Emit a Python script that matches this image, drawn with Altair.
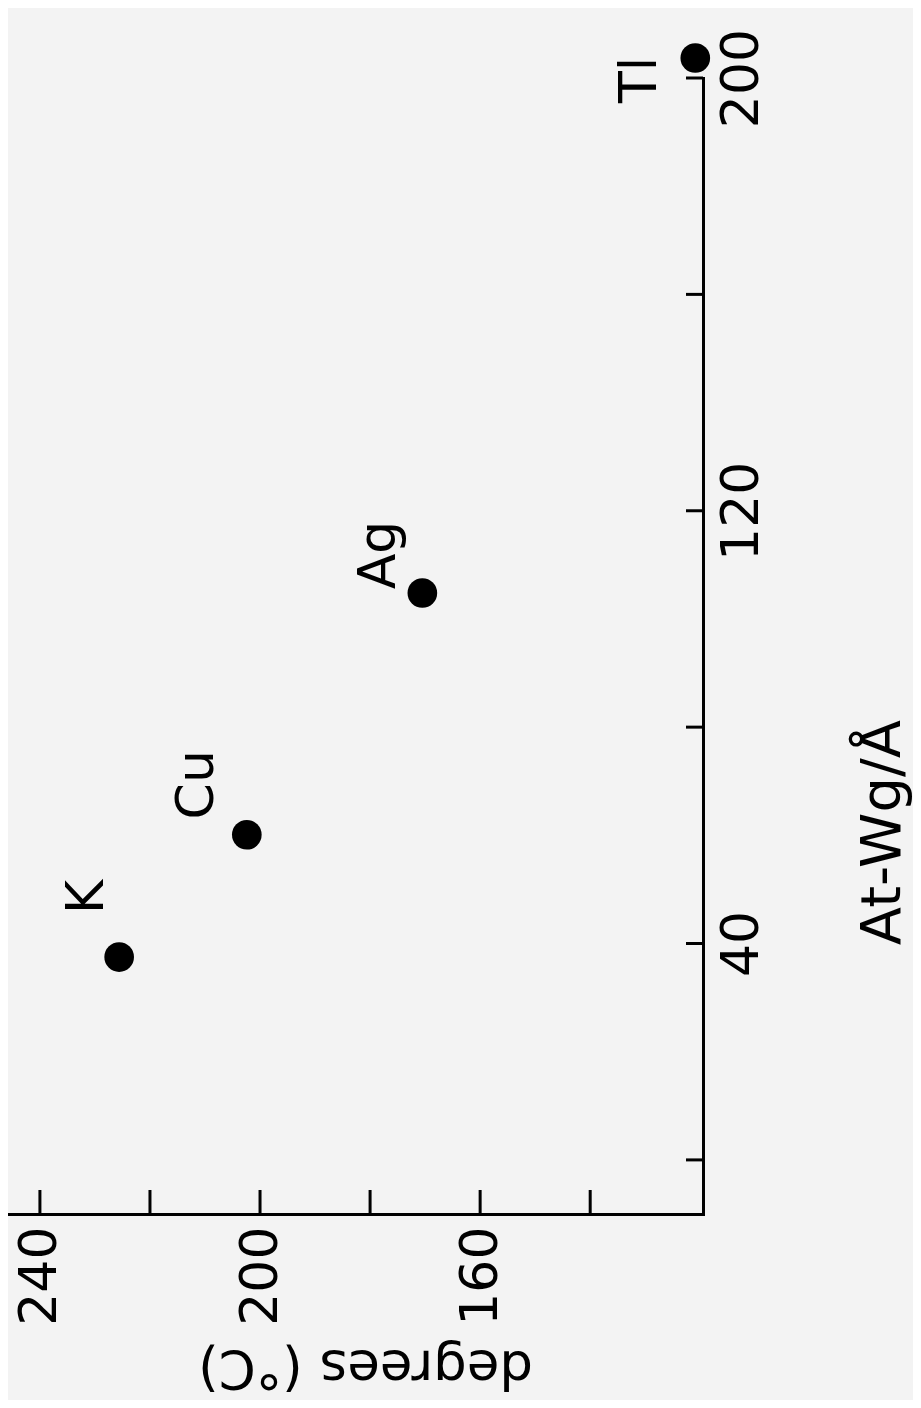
import altair as alt
import pandas as pd

# ---- data ----
elements = ["K", "Cu", "Ag", "Tl"]
at_wg = [37.5, 60.1, 104.8, 203.7]          # At-Wg/Å
degrees_c = [225.6, 202.4, 170.5, 120.9]    # degrees (°C)

deg_ticks = [140, 160, 180, 200, 220, 240]
deg_labels = [160, 200, 240]
atwg_ticks = [0, 40, 80, 120, 160, 200]
atwg_labels = [40, 120, 200]

df = pd.DataFrame({"element": elements, "at_wg": at_wg, "deg": degrees_c})
df_xt = pd.DataFrame({"deg": deg_ticks})
df_yt = pd.DataFrame({"at_wg": atwg_ticks})

W, H = 695, 1136
FONT = "DejaVu Sans"
INK = "black"

xscale = alt.Scale(domain=[119.5, 245.8], reverse=True, nice=False, zero=False)
yscale = alt.Scale(domain=[-10, 200], nice=False, zero=False)

x_axis = alt.Axis(
    orient="bottom", values=deg_labels, ticks=False, grid=False,
    domainColor=INK, domainWidth=3, domainCap="square",
    labelAngle=270, labelAlign="right", labelBaseline="middle", labelPadding=12,
    labelFont=FONT, labelFontSize=52, labelColor=INK,
    labelFlush=False, labelOverlap=False,
    title="degrees (°C)", titleAngle=180, titleAlign="center",
    titleBaseline="alphabetic", titleX=357, titleY=136,
    titleFont=FONT, titleFontSize=53, titleFontWeight="normal", titleColor=INK,
)
y_axis = alt.Axis(
    orient="right", values=atwg_labels, ticks=False, grid=False,
    domainColor=INK, domainWidth=3, domainCap="square",
    labelAngle=270, labelAlign="center", labelBaseline="top", labelPadding=13,
    labelFont=FONT, labelFontSize=52, labelColor=INK,
    labelFlush=False, labelOverlap=False,
    title="At-Wg/Å", titleAngle=270, titleAlign="center",
    titleBaseline="alphabetic", titleX=196, titleY=754,
    titleFont=FONT, titleFontSize=56, titleFontWeight="normal", titleColor=INK,
)

X = alt.X("deg:Q", scale=xscale, axis=x_axis)
Y = alt.Y("at_wg:Q", scale=yscale, axis=y_axis)

points = alt.Chart(df).mark_circle(size=880, color=INK, opacity=1).encode(x=X, y=Y)

# inward-pointing tick marks
xticks = alt.Chart(df_xt).mark_rule(color=INK, strokeWidth=3).encode(
    x=X, y=alt.value(H), y2=alt.value(H - 24),
)
yticks = alt.Chart(df_yt).mark_rule(color=INK, strokeWidth=3).encode(
    y=Y, x=alt.value(W), x2=alt.value(W - 17),
)

# point labels (offsets in rotated text frame: dx along text, dy across)
LABEL_OFFSET = {"K": (60, -32), "Cu": (50, -50), "Ag": (38, -43), "Tl": (-22, -55)}
texts = []
for name in elements:
    dx, dy = LABEL_OFFSET[name]
    texts.append(
        alt.Chart(df).transform_filter(alt.datum.element == name).mark_text(
            angle=270, align="center", baseline="middle", dx=dx, dy=dy,
            font=FONT, fontSize=52, color=INK,
        ).encode(x=X, y=Y, text="element:N")
    )

chart = alt.layer(points, xticks, yticks, *texts).properties(
    width=W, height=H,
    autosize=alt.AutoSizeParams(type="none"),
    padding={"left": 0, "top": 70, "right": 210, "bottom": 186},
    background="#f3f3f3",
).configure_view(strokeOpacity=0)

chart.save("out.html", embed_options={"renderer": "svg", "actions": False})
